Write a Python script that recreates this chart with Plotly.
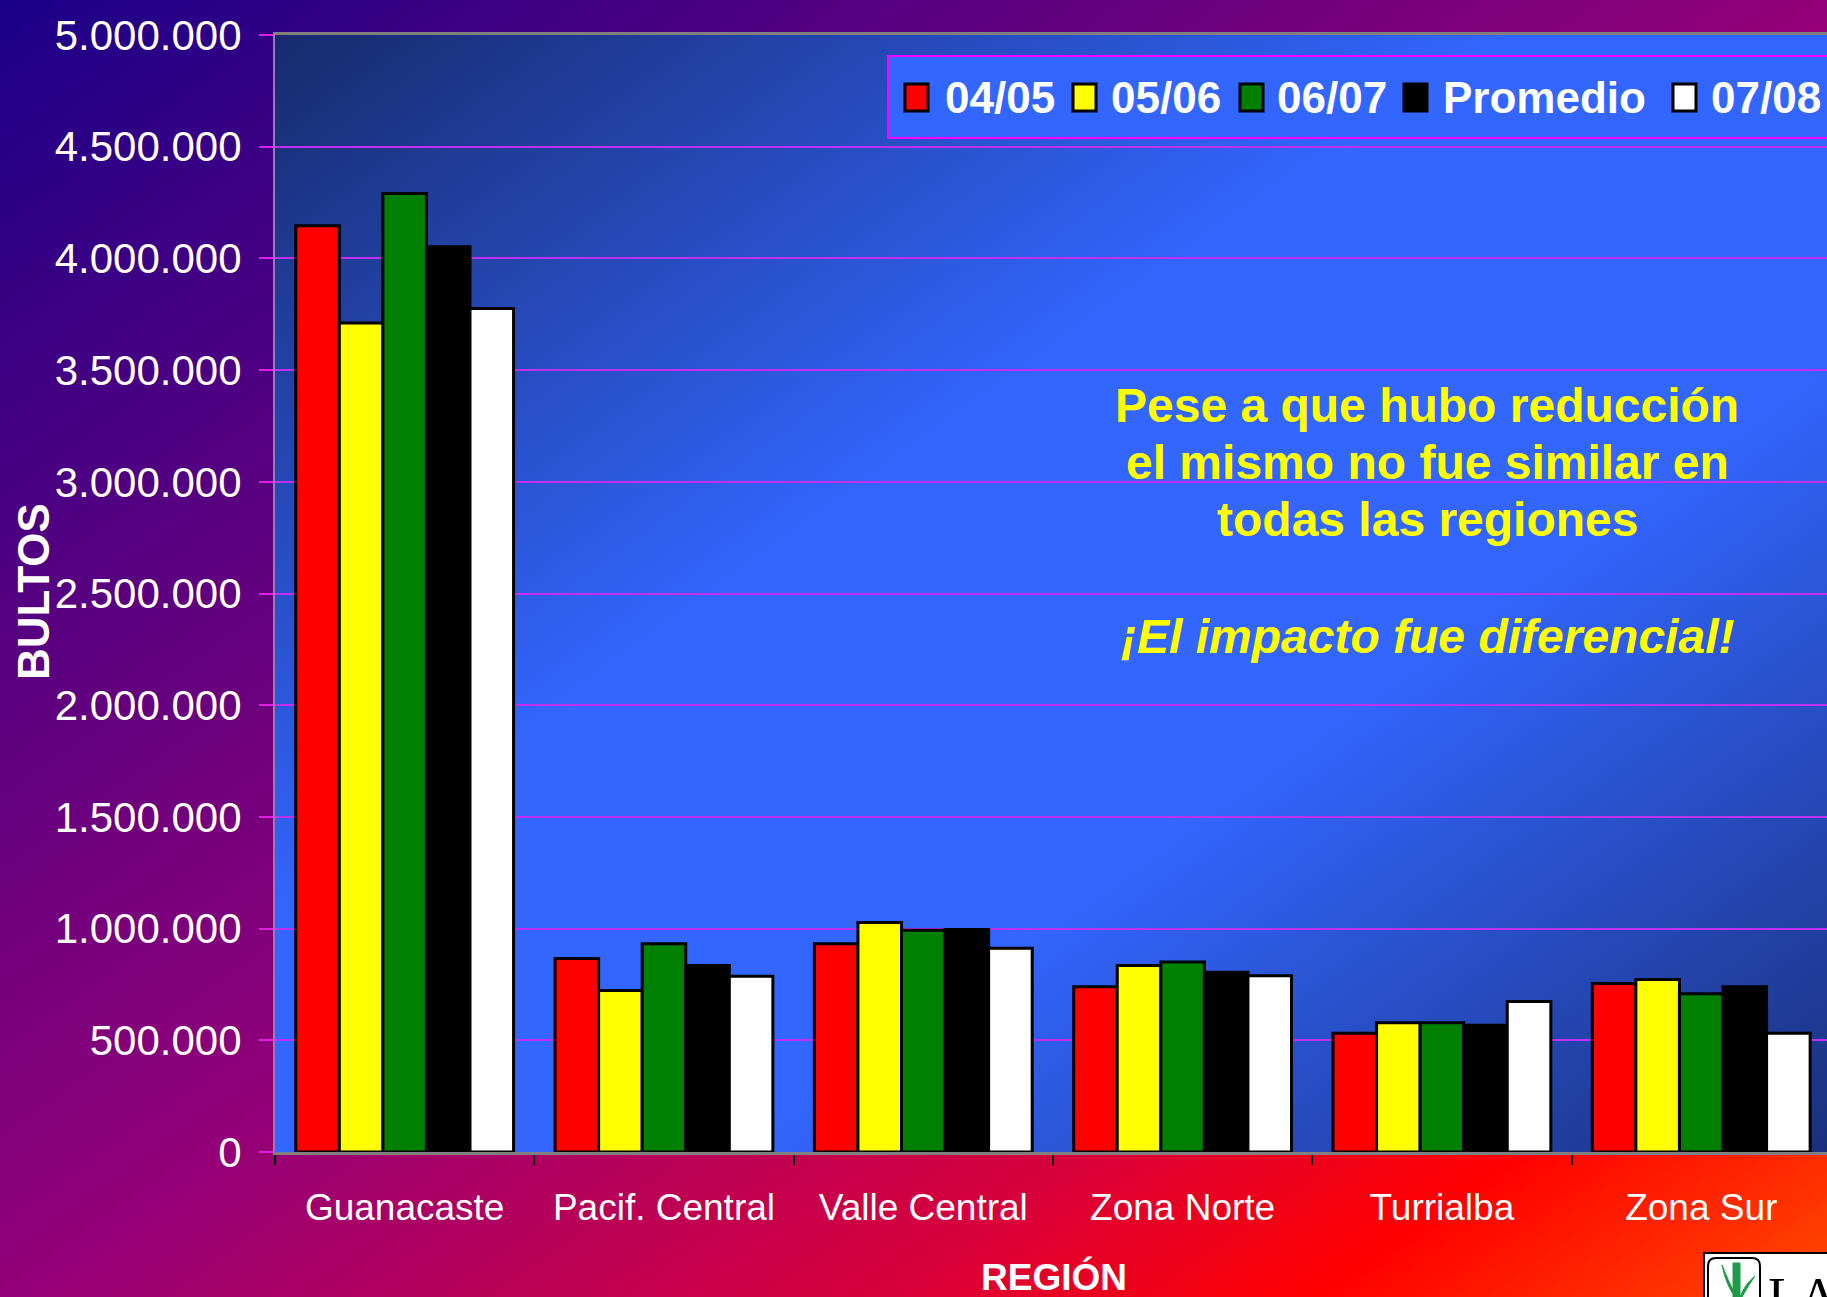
import base64
import plotly.graph_objects as go

# ---------------- data ----------------
regions = ["Guanacaste", "Pacif. Central", "Valle Central", "Zona Norte", "Turrialba", "Zona Sur"]
series_names = ["04/05", "05/06", "06/07", "Promedio", "07/08"]
v_0405 = [4146000, 866000, 932000, 740000, 531000, 754000]
v_0506 = [3711000, 723000, 1027000, 835000, 579000, 772000]
v_0607 = [4290000, 932000, 993000, 851000, 579000, 708000]
v_prom = [4052000, 835000, 996000, 805000, 567000, 740000]
v_0708 = [3776000, 787000, 912000, 789000, 674000, 531000]
y_tick_values = [0, 500000, 1000000, 1500000, 2000000, 2500000, 3000000, 3500000, 4000000, 4500000, 5000000]

series_values = [v_0405, v_0506, v_0607, v_prom, v_0708]
bar_colors = ["#ff0000", "#ffff00", "#008000", "#000000", "#ffffff"]

# ---------------- geometry (pixels) ----------------
W, H = 1827, 1297
L, T, B = 275, 35, 1152
PW, PH = W - L, B - T


def px(x):
    return (x - L) / PW


def py(y):
    return (B - y) / PH


def svg_uri(stops):
    s = "".join(f'<stop offset="{o}" stop-color="{c}"/>' for o, c in stops)
    svg = ('<svg xmlns="http://www.w3.org/2000/svg" width="400" height="400" '
           'viewBox="0 0 400 400" preserveAspectRatio="none"><defs>'
           f'<linearGradient id="g" x1="0" y1="0" x2="1" y2="1">{s}</linearGradient>'
           '</defs><rect x="0" y="0" width="400" height="400" fill="url(#g)"/></svg>')
    return "data:image/svg+xml;base64," + base64.b64encode(svg.encode()).decode()


outer_bg = svg_uri([(0, "#1a0088"), (0.5, "#930079"), (0.74, "#d8003c"),
                    (0.86, "#ff0000"), (1, "#ff4a00")])
inner_bg = svg_uri([(0, "#172a6c"), (0.4, "#3366ff"), (0.64, "#3366ff"), (1, "#1a307c")])

FONT = "Arial, Liberation Sans, sans-serif"

fig = go.Figure()
for name, vals, col in zip(series_names, series_values, bar_colors):
    fig.add_trace(go.Bar(
        x=regions, y=vals, name=name, showlegend=False,
        marker=dict(color=col, line=dict(color="#000000", width=3)),
    ))

shapes = []
annotations = []

# ----- manual legend -----
shapes.append(dict(type="rect", xref="paper", yref="paper", layer="above",
                   x0=px(888), x1=px(1845), y0=py(138), y1=py(56),
                   fillcolor="#3366ff", line=dict(color="#ff00ff", width=2)))
sym_x = [905, 1073, 1240, 1404, 1673]
txt_x = [943, 1109, 1275, 1441, 1709]
for name, col, sx, tx in zip(series_names, bar_colors, sym_x, txt_x):
    shapes.append(dict(type="rect", xref="paper", yref="paper", layer="above",
                       x0=px(sx), x1=px(sx + 23), y0=py(111), y1=py(84),
                       fillcolor=col, line=dict(color="#000000", width=3)))
    annotations.append(dict(text=f"<b>{name}</b>", xref="paper", yref="paper",
                            x=px(tx), y=py(97), xanchor="left", yanchor="middle",
                            showarrow=False, font=dict(family=FONT, size=44, color="#ffffff")))

# ----- comment text -----
lines = [("Pese a que hubo reducción", 405, False),
         ("el mismo no fue similar en", 462, False),
         ("todas las regiones", 519, False),
         ("¡El impacto fue diferencial!", 636, True)]
for txt, yy, it in lines:
    t = f"<b><i>{txt}</i></b>" if it else f"<b>{txt}</b>"
    annotations.append(dict(text=t, xref="paper", yref="paper", x=px(1427), y=py(yy),
                            xanchor="center", yanchor="middle", showarrow=False,
                            font=dict(family=FONT, size=48, color="#ffff00")))

# ----- axis titles -----
annotations.append(dict(text="<b>BULTOS</b>", xref="paper", yref="paper", x=px(33), y=py(592),
                        xanchor="center", yanchor="middle", textangle=-90, showarrow=False,
                        font=dict(family=FONT, size=44, color="#ffffff")))
annotations.append(dict(text="<b>REGIÓN</b>", xref="paper", yref="paper", x=px(1054), y=py(1277),
                        xanchor="center", yanchor="middle", showarrow=False,
                        font=dict(family=FONT, size=37, color="#ffffff")))

# ----- logo (bottom right, cropped) -----
shapes.append(dict(type="rect", xref="paper", yref="paper", layer="above",
                   x0=px(1704), x1=px(1840), y0=py(1310), y1=py(1253),
                   fillcolor="#ffffff", line=dict(color="#000000", width=2)))
shapes.append(dict(type="path", xref="paper", yref="paper", layer="above",
                   path=(f"M{px(1708)},{py(1310)} L{px(1708)},{py(1266)} Q{px(1708)},{py(1258)} {px(1716)},{py(1258)} "
                         f"L{px(1752)},{py(1258)} Q{px(1760)},{py(1258)} {px(1760)},{py(1266)} L{px(1760)},{py(1310)}"),
                   line=dict(color="#000000", width=2)))
shapes.append(dict(type="path", xref="paper", yref="paper", layer="above",
                   path=(f"M{px(1733)},{py(1297)} L{px(1733)},{py(1263)} L{px(1740)},{py(1263)} L{px(1740)},{py(1297)} Z"),
                   fillcolor="#1f9a4a", line=dict(color="#1f9a4a", width=1)))
shapes.append(dict(type="path", xref="paper", yref="paper", layer="above",
                   path=(f"M{px(1722)},{py(1265)} Q{px(1726)},{py(1285)} {px(1735)},{py(1297)} "
                         f"L{px(1733)},{py(1290)} Q{px(1728)},{py(1280)} {px(1722)},{py(1265)} Z"),
                   fillcolor="#1f9a4a", line=dict(color="#1f9a4a", width=1)))
shapes.append(dict(type="path", xref="paper", yref="paper", layer="above",
                   path=(f"M{px(1755)},{py(1276)} Q{px(1745)},{py(1284)} {px(1740)},{py(1297)} "
                         f"L{px(1742)},{py(1297)} Q{px(1748)},{py(1286)} {px(1755)},{py(1276)} Z"),
                   fillcolor="#1f9a4a", line=dict(color="#1f9a4a", width=1)))
annotations.append(dict(text="LAICA", xref="paper", yref="paper", x=px(1766), y=py(1266),
                        xanchor="left", yanchor="top", showarrow=False,
                        font=dict(family="Liberation Serif, Times New Roman, serif", size=52, color="#000000")))

fig.update_layout(
    width=W, height=H,
    margin=dict(l=L, r=0, t=T, b=H - B, pad=0),
    paper_bgcolor="#7a0080",
    plot_bgcolor="rgba(0,0,0,0)",
    separators=",.",
    barmode="group", bargap=0.16, bargroupgap=0,
    showlegend=False,
    shapes=shapes,
    annotations=annotations,
    images=[
        dict(source=outer_bg, xref="paper", yref="paper", x=-L / PW, y=1 + T / PH,
             sizex=W / PW, sizey=H / PH, xanchor="left", yanchor="top",
             sizing="stretch", layer="below"),
        dict(source=inner_bg, xref="paper", yref="paper", x=0, y=1,
             sizex=1, sizey=1, xanchor="left", yanchor="top",
             sizing="stretch", layer="below"),
    ],
    xaxis=dict(
        range=[-0.5, 5.485],
        showgrid=False, zeroline=False,
        showline=True, linecolor="#808080", linewidth=3, mirror=True,
        ticks="outside", tickson="boundaries", ticklen=10, tickcolor="#000000", tickwidth=1.5,
        tickfont=dict(family=FONT, size=37, color="#ffffff"),
        ticklabelstandoff=21,
    ),
    yaxis=dict(
        range=[0, 5000000],
        tickvals=y_tick_values, tickformat=",d",
        showgrid=True, gridcolor="#c030ee", gridwidth=1.5,
        zeroline=False,
        showline=True, linecolor="#9a7ab0", linewidth=2,
        ticks="outside", ticklen=14, tickcolor="#e020e0", tickwidth=1.5,
        tickfont=dict(family=FONT, size=42, color="#ffffff"),
        ticklabelstandoff=9,
    ),
)

fig.write_html(
    "out.html",
    config={"displayModeBar": False},
    post_script="document.body.style.margin='0';document.body.style.overflow='hidden';",
)
